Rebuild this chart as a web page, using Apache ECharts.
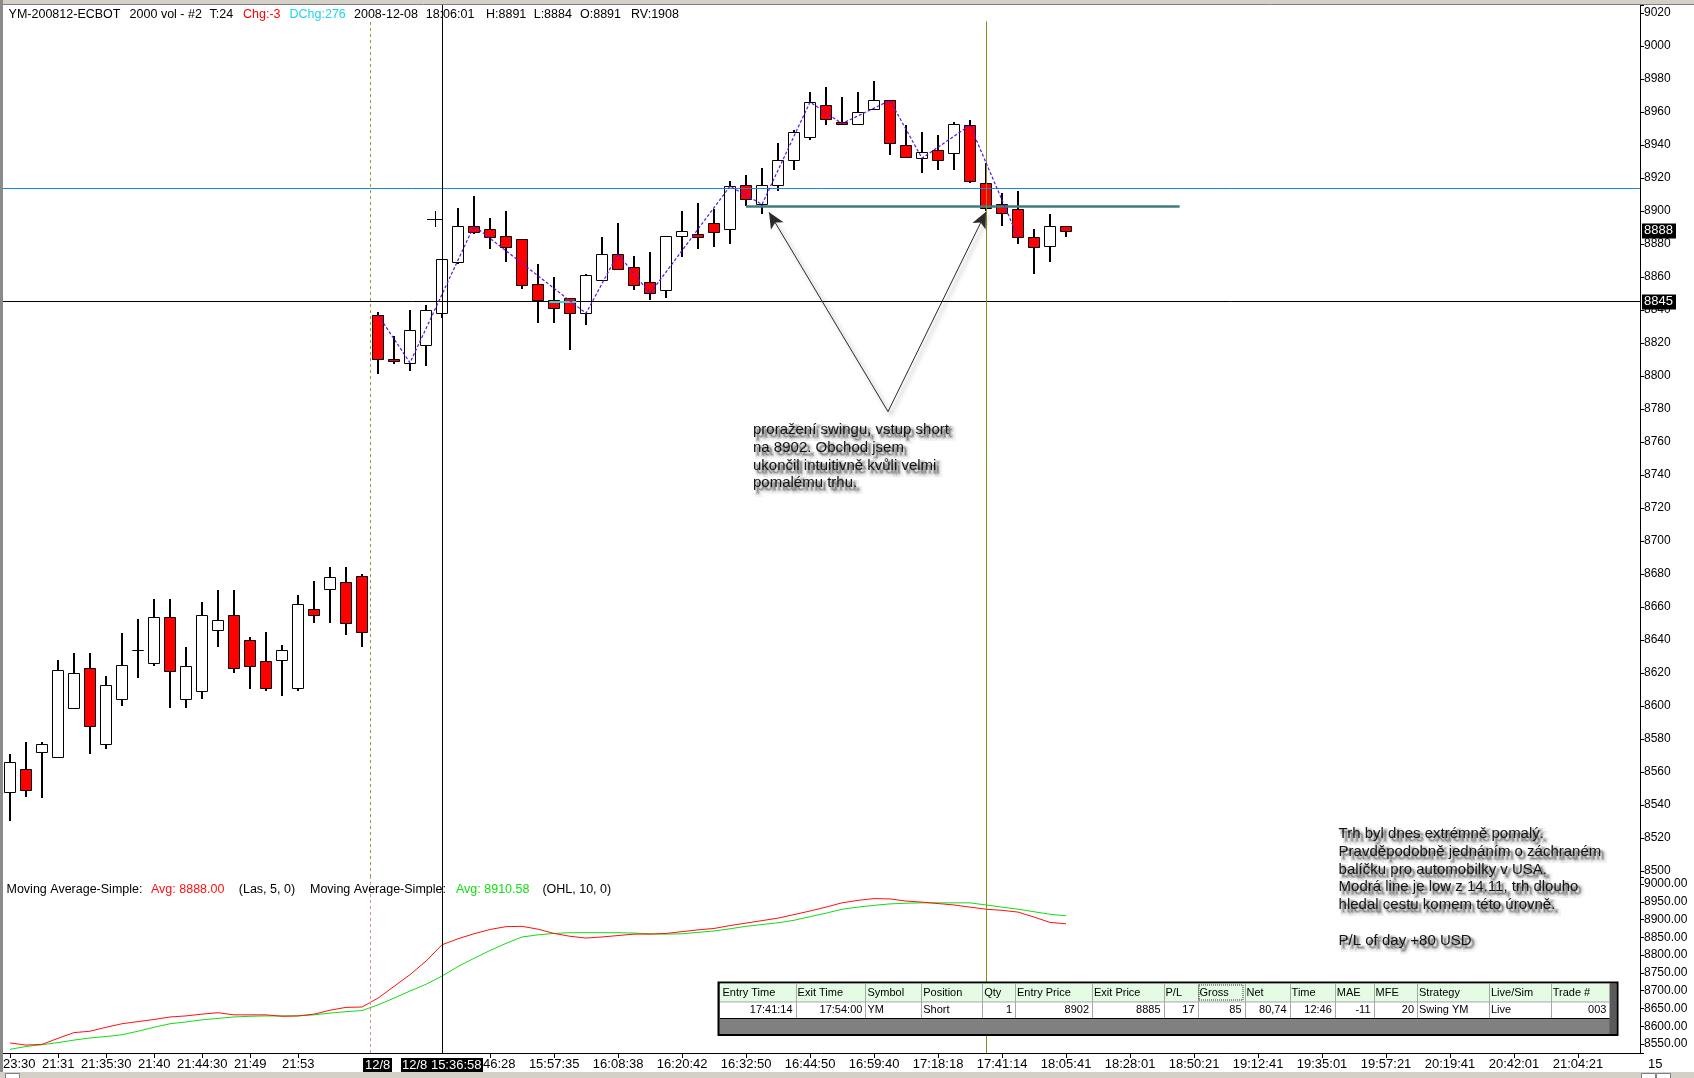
<!DOCTYPE html>
<html><head><meta charset="utf-8">
<script src="https://cdn.jsdelivr.net/npm/echarts@6.0.0/dist/echarts.min.js"></script>
<style>html,body{margin:0;padding:0;background:#fff}#c{width:1694px;height:1078px}</style>
</head><body><div id="c"></div>
<script>
// ---- data ----
const opens  = [8548,8562,8572,8569,8599,8623,8577,8604,8634,8626,8654,8604,8609,8646,8655,8640,8627,8628,8611,8659,8671,8675,8679,
                8837,8810,8808,8819,8838,8869,8891,8889,8885,8883,8856,8846,8847,8838,8858,8874,8866,8857,8852,8885,8886,8893,8889,8916,8904,8916,8931,8945,8964,8954,8953,8962,8967,8940,8932,8937,8935,8952,8917,8904,8901,8884,8879,8891];
const closes = [8566,8549,8577,8622,8620,8588,8613,8625,8634,8654,8621,8624,8655,8652,8623,8624,8611,8634,8662,8655,8678,8650,8645,
                8810,8809,8828,8840,8871,8891,8887,8884,8878,8855,8846,8841,8838,8861,8874,8865,8855,8850,8885,8888,8884,8887,8915,8907,8916,8931,8948,8966,8956,8953,8960,8967,8941,8933,8936,8931,8953,8918,8902,8899,8884,8878,8891,8888];
const lows   = [8530,8545,8544,8569,8598,8571,8574,8600,8617,8624,8599,8599,8604,8636,8620,8610,8609,8606,8609,8650,8650,8643,8636,
                8801,8807,8803,8806,8835,8868,8886,8877,8869,8853,8832,8832,8816,8831,8858,8865,8852,8846,8847,8872,8877,8878,8880,8903,8898,8912,8925,8943,8952,8952,8952,8962,8934,8932,8923,8925,8925,8917,8900,8891,8880,8862,8869,8884];
const highs  = [8571,8578,8578,8628,8632,8632,8618,8644,8653,8665,8665,8636,8663,8670,8670,8642,8645,8637,8667,8676,8684,8684,8680,
                8839,8824,8840,8843,8871,8902,8909,8896,8900,8883,8868,8860,8847,8862,8884,8893,8873,8875,8885,8900,8905,8901,8918,8922,8926,8941,8949,8972,8975,8969,8972,8979,8967,8952,8948,8946,8954,8955,8929,8911,8912,8889,8898,8891];
const maLast5 = [8553,8547,8549,8566,8582,8586,8597,8607,8613,8619,8626,8629,8634,8638,8632,8632,8632,8628,8629,8634,8645,8653,8654,
                 8679,8712,8745,8783,8829,8846,8860,8872,8880,8881,8873,8861,8853,8848,8851,8855,8859,8859,8861,8866,8871,8875,8883,8890,8897,8904,8914,8924,8935,8947,8954,8959,8958,8952,8949,8945,8941,8935,8929,8926,8921,8907,8892,8888];
const maOhl10 = [8535,8543,8548,8554,8561,8567,8571,8576,8586,8597,8607,8612,8618,8622,8626,8628,8629,8629,8629,8632,8637,8641,8644,
                 8660,8679,8699,8718,8741,8768,8791,8813,8833,8851,8857,8861,8863,8863,8863,8863,8862,8860,8859,8860,8864,8868,8874,8881,8886,8891,8898,8908,8918,8929,8935,8940,8944,8946,8947,8947,8947,8947,8941,8935,8929,8922,8915,8910.6];
const zigzagIdx = [23,25,29,36,38,40,45,47,50,52,55,57,60,63];
const zigzagVal = [8837,8808,8891,8838,8874,8850,8915,8904,8966,8953,8967,8932,8952,8884];
const tickIdx  = [0,3,6,9,12,15,18,30,34,38,42,46,50,54,58,62,66,70,74,78,82,86,90,94,98];
const tickText = ['23:30','21:31','21:35:30','21:40','21:44:30','21:49','21:53','15:46:28','15:57:35','16:08:38','16:20:42','16:32:50','16:44:50',
                  '16:59:40','17:18:18','17:41:14','18:05:41','18:28:01','18:50:21','19:12:41','19:35:01','19:57:21','20:19:41','20:42:01','21:04:21'];
const slotCount = 103;
const blueLevel = 8914, blackLevel = 8845, swingLow = 8903, lastPrice = 8888;
const tableHeaders = ['Entry Time','Exit Time','Symbol','Position','Qty','Entry Price','Exit Price','P/L','Gross','Net','Time','MAE','MFE','Strategy','Live/Sim','Trade #'];
const tableRow = ['17:41:14','17:54:00','YM','Short','1','8902','8885','17','85','80,74','12:46','-11','20','Swing YM','Live','003'];
const tableAlign = ['r','r','l','l','r','r','r','r','r','r','r','r','r','l','l','r'];

// ---- layout ----
const F = '"Liberation Sans", Arial, sans-serif';
const GW = 1637;
const X0 = -0.4375, X1 = X0 + GW / 16;
const Y0 = 8496.36, Y1 = 9024.85;
const L0 = 8524.7, L1 = 9019.7;
const chart = echarts.init(document.getElementById('c'), null, {renderer: 'canvas'});

const slots = Array.from({length: slotCount}, (_, i) => String(i));
const tickMap = {};
tickIdx.forEach((k, j) => tickMap[k] = tickText[j]);
const showTick = (i) => tickMap[i] !== undefined;

function renderCandle(params, api) {
  const i = api.value(0), o = api.value(1), c = api.value(2), lo = api.value(3), hi = api.value(4);
  const pO = api.coord([i, o]), pC = api.coord([i, c]), pH = api.coord([i, hi]), pL = api.coord([i, lo]);
  const cx = Math.round(pO[0]);
  const half = 5.5;
  const top = Math.round(Math.min(pO[1], pC[1])) + 0.5;
  const bot = Math.round(Math.max(pO[1], pC[1])) + 0.5;
  return {type: 'group', children: [
    {type: 'line', shape: {x1: cx, y1: Math.round(pH[1]), x2: cx, y2: Math.round(pL[1])}, style: {stroke: '#000', lineWidth: 2}},
    {type: 'rect', shape: {x: cx - half, y: top, width: 2 * half, height: bot - top}, style: {fill: c >= o ? '#ffffff' : '#ff0000', stroke: '#000', lineWidth: 1}}
  ]};
}

const hidden = {show: false};
const arrowStyle = {color: '#2a2a2a', width: 1, type: 'solid', shadowColor: 'rgba(0,0,0,0.45)', shadowBlur: 4, shadowOffsetX: 3, shadowOffsetY: 3};

const option = {
  animation: false,
  backgroundColor: '#fff',
  grid: [
    {left: 3, top: 5, width: GW, height: 872},
    {left: 3, top: 877, width: GW, height: 176},
    {left: 2, top: 877, width: 16 * slotCount, height: 176}
  ],
  xAxis: [
    {gridIndex: 0, type: 'value', min: X0, max: X1, show: false},
    {gridIndex: 1, type: 'value', min: X0, max: X1,
     axisLine: {show: true, onZero: false, lineStyle: {color: '#000', width: 1}},
     axisTick: hidden, axisLabel: hidden, splitLine: hidden},
    {gridIndex: 2, type: 'category', data: slots, boundaryGap: true,
     axisLine: {show: false, onZero: false}, splitLine: hidden,
     axisTick: {show: true, alignWithLabel: true, length: 5, interval: (i) => showTick(i), lineStyle: {color: '#000'}},
     axisLabel: {interval: (i) => showTick(i), margin: 5, fontSize: 13, fontFamily: F, color: '#000',
       formatter: (v, i) => (i === 0 ? '{first|' + tickMap[0] + '}' : (tickMap[i] || '')),
       rich: {first: {padding: [0, 0, 0, 18], fontSize: 13, fontFamily: F, color: '#000'}}}}
  ],
  yAxis: [
    {gridIndex: 0, type: 'value', position: 'right', min: Y0, max: Y1, minInterval: 20, maxInterval: 20, splitNumber: 26,
     axisLine: {show: true, onZero: false, lineStyle: {color: '#000'}}, axisTick: {show: true, length: 4, lineStyle: {color: '#000'}},
     splitLine: hidden,
     axisLabel: {margin: 4, fontSize: 12, fontFamily: F, color: '#000',
       formatter: (v) => (Math.abs(v / 20 - Math.round(v / 20)) < 1e-6 ? String(Math.round(v)) : '')}},
    {gridIndex: 1, type: 'value', position: 'right', min: L0, max: L1, minInterval: 50, maxInterval: 50, splitNumber: 10,
     axisLine: {show: true, onZero: false, lineStyle: {color: '#000'}}, axisTick: {show: true, length: 4, lineStyle: {color: '#000'}},
     splitLine: hidden,
     axisLabel: {margin: 4, fontSize: 12, fontFamily: F, color: '#000',
       formatter: (v) => (Math.abs(v / 50 - Math.round(v / 50)) < 1e-6 ? v.toFixed(2) : '')}},
    {gridIndex: 2, type: 'value', show: false, axisLine: {show: false, onZero: false}}
  ],
  series: [
    {type: 'custom', name: 'YM', xAxisIndex: 0, yAxisIndex: 0, renderItem: renderCandle, z: 4, clip: false,
     encode: {x: 0, y: [1, 2, 3, 4]},
     data: opens.map((o, i) => [i, o, closes[i], lows[i], highs[i]])},
    {type: 'line', name: 'swing', xAxisIndex: 0, yAxisIndex: 0, z: 5, symbol: 'none', silent: true,
     lineStyle: {color: '#5a14e6', width: 1.2, type: [3, 2]},
     data: zigzagIdx.map((x, k) => [x, zigzagVal[k]]),
     markLine: {silent: true, symbol: ['none', 'none'], label: {show: false}, animation: false, precision: 4,
       data: [
         {yAxis: blueLevel, lineStyle: {color: '#1a84f0', width: 1, type: 'solid'}},
         {yAxis: blackLevel, lineStyle: {color: '#000', width: 1, type: 'solid'}},
         [{coord: [46, swingLow], lineStyle: {color: '#3c7c7c', width: 2.5, type: 'solid'}}, {coord: [73.1, swingLow]}],
         [{coord: [33.7, blackLevel], lineStyle: {color: '#30d8e0', width: 2, type: 'solid'}}, {coord: [35.4, blackLevel]}],
         {xAxis: 27, lineStyle: {color: '#000', width: 1, type: 'solid'}},
         [{coord: [22.5, Y0], lineStyle: {color: '#9a9a30', width: 1, type: [3, 3]}}, {coord: [22.5, 9014.5]}],
         [{coord: [61, Y0], lineStyle: {color: '#8a8a1a', width: 1, type: 'solid'}}, {coord: [61, 9015]}],
         [{coord: [54.875, 8778.4], symbol: 'none', lineStyle: arrowStyle}, {coord: [47.44, 8899.2], symbol: 'arrow', symbolSize: [11, 16], itemStyle: {color: '#111'}}],
         [{coord: [54.875, 8778.4], symbol: 'none', lineStyle: arrowStyle}, {coord: [61.0, 8899.5], symbol: 'arrow', symbolSize: [11, 16], itemStyle: {color: '#111'}}]
       ]}},
    {type: 'line', name: 'MA Las 5', xAxisIndex: 1, yAxisIndex: 1, symbol: 'none', z: 4,
     lineStyle: {color: '#ff1010', width: 1}, data: maLast5.map((v, i) => [i, v]),
     markLine: {silent: true, symbol: ['none', 'none'], label: {show: false}, animation: false,
       data: [
         {xAxis: 22.5, lineStyle: {color: '#e08a8a', width: 1, type: [3, 3]}},
         {xAxis: 27, lineStyle: {color: '#000', width: 1, type: 'solid'}},
         {xAxis: 61, lineStyle: {color: '#8a8a1a', width: 1, type: 'solid'}}
       ]}},
    {type: 'line', name: 'MA OHL 10', xAxisIndex: 1, yAxisIndex: 1, symbol: 'none', z: 3,
     lineStyle: {color: '#10e010', width: 1}, data: maOhl10.map((v, i) => [i, v])}
  ]
};
chart.setOption(option);

// ---- annotations / decorations positioned through the chart's own scales ----
const yMain = (v) => chart.convertToPixel({yAxisIndex: 0}, v);
const pMain = (x, y) => chart.convertToPixel({seriesIndex: 0}, [x, y]);
const xAt = (x) => chart.convertToPixel({xAxisIndex: 0}, x);
const g = [];
const txt = (text, x, y, o, z) => g.push({type: 'text', x: x, y: y, z: z || 60, silent: true,
  style: Object.assign({text: text, fill: '#000', fontSize: 12.5, fontFamily: F}, (o && o.style) || {})});

// window chrome
g.push({type: 'rect', z: 70, silent: true, shape: {x: 0, y: 0, width: 1694, height: 4}, style: {fill: '#d4d0c8'}});
g.push({type: 'line', z: 70, silent: true, shape: {x1: 0, y1: 4.5, x2: 1694, y2: 4.5}, style: {stroke: '#808080', lineWidth: 1}});
g.push({type: 'rect', z: 70, silent: true, shape: {x: 0, y: 0, width: 3, height: 1078}, style: {fill: '#8a8a8a'}});
g.push({type: 'rect', z: 70, silent: true, shape: {x: 0, y: 1072, width: 1694, height: 6}, style: {fill: '#d4d0c8'}});
g.push({type: 'rect', z: 71, silent: true, shape: {x: 5.5, y: 1073.5, width: 14, height: 6}, style: {fill: '#fff', stroke: '#808080', lineWidth: 1}});
g.push({type: 'rect', z: 71, silent: true, shape: {x: 1641.5, y: 1073.5, width: 14, height: 6}, style: {fill: '#fff', stroke: '#808080', lineWidth: 1}});
g.push({type: 'rect', z: 71, silent: true, shape: {x: 1656.5, y: 1073.5, width: 14, height: 6}, style: {fill: '#fff', stroke: '#808080', lineWidth: 1}});

// header line
[['YM-200812-ECBOT', 8.6, '#000'], ['2000 vol - #2', 129.6, '#000'], ['T:24', 209.6, '#000'], ['Chg:-3', 243, '#ff0000'],
 ['DChg:276', 289.5, '#1ed4f0'], ['2008-12-08', 354, '#000'], ['18:06:01', 425.7, '#000'], ['H:8891', 486, '#000'],
 ['L:8884', 533.7, '#000'], ['O:8891', 580, '#000'], ['RV:1908', 631, '#000']]
  .forEach(p => txt(p[0], p[1], 8, {style: {fill: p[2]}}));

// MA legend
[['Moving Average-Simple:', 6.5, '#000'], ['Avg: 8888.00', 151, '#ff1010'], ['(Las, 5, 0)', 238.8, '#000'],
 ['Moving Average-Simple:', 310, '#000'], ['Avg: 8910.58', 456, '#10e010'], ['(OHL, 10, 0)', 542.4, '#000']]
  .forEach(p => txt(p[0], p[1], 883, {style: {fill: p[2]}}));

// annotation notes with a soft drop shadow (layered translucent copies)
const notes = [
  ['proražení swingu, vstup short\nna 8902. Obchod jsem\nukončil intuitivně kvůli velmi\npomalému trhu.', 753, 421],
  ['Trh byl dnes extrémně pomalý.\nPravděpodobně jednáním o záchraném\nbalíčku pro automobilky v USA.\nModrá line je low z 14.11, trh dlouho\nhledal cestu komem této úrovně.\n\nP/L of day +80 USD', 1338.6, 825]
];
const shadowLayers = [[4, 4, 6, 0.05], [3, 3, 4, 0.07], [3, 3, 2, 0.10]];
notes.forEach(n => {
  shadowLayers.forEach((s, k) => txt(n[0], n[1] + s[0], n[2] + s[1], {style: {fontSize: 15, lineHeight: 17.8,
     fill: 'rgba(0,0,0,' + (s[3] * 1.6).toFixed(3) + ')', stroke: 'rgba(0,0,0,' + s[3] + ')', lineWidth: s[2]}}, 55 + k));
  txt(n[0], n[1], n[2], {style: {fontSize: 15, lineHeight: 17.8, fill: '#141414'}}, 59);
});

// price boxes on the value axis
[lastPrice, blackLevel].forEach(v => {
  const y = Math.round(yMain(v));
  g.push({type: 'rect', z: 65, silent: true, shape: {x: 1642, y: y - 7.5, width: 34, height: 15}, style: {fill: '#000'}});
  txt(String(v), 1644, y - 7, {style: {fill: '#fff', fontSize: 13}}, 66);
});

// time boxes on the time axis
const xCross = Math.round(xAt(27));
const xSess = Math.round(xAt(22.5)) + 6;
g.push({type: 'rect', z: 65, silent: true, shape: {x: xSess - 13, y: 1058, width: 29, height: 15}, style: {fill: '#000'}});
txt('12/8', xSess - 11, 1059, {style: {fill: '#fff', fontSize: 13}}, 66);
g.push({type: 'rect', z: 65, silent: true, shape: {x: xCross - 41, y: 1058, width: 82, height: 15}, style: {fill: '#000'}});
txt('12/8 15:36:58', xCross - 40, 1059, {style: {fill: '#fff', fontSize: 13}}, 66);
txt('15', 1648, 1058, {style: {fill: '#000', fontSize: 13}}, 66);

// mouse cursor cross
const cur = pMain(26.58, 8895);
g.push({type: 'line', z: 60, silent: true, shape: {x1: Math.round(cur[0]) - 8, y1: Math.round(cur[1]) + 0.5, x2: Math.round(cur[0]) + 8, y2: Math.round(cur[1]) + 0.5}, style: {stroke: '#000', lineWidth: 1}});
g.push({type: 'line', z: 60, silent: true, shape: {x1: Math.round(cur[0]) + 0.5, y1: Math.round(cur[1]) - 8, x2: Math.round(cur[0]) + 0.5, y2: Math.round(cur[1]) + 8}, style: {stroke: '#000', lineWidth: 1}});

// trade table
const colEdges = [720.5, 795.6, 865.4, 921.2, 982.2, 1015, 1092, 1163.5, 1197.5, 1244.5, 1289.6, 1334.8, 1373.5, 1417, 1489, 1550.7, 1609.4];
const tTop = 982.5, hH = 18, rH = 16.5, tBot = 1035;
g.push({type: 'rect', z: 80, silent: true, shape: {x: 718.5, y: tTop, width: 899, height: tBot - tTop}, style: {fill: '#808080', stroke: '#000', lineWidth: 2}});
g.push({type: 'rect', z: 81, silent: true, shape: {x: 720, y: tTop + 1, width: 1609.4 - 720, height: hH}, style: {fill: '#e4fbe4'}});
g.push({type: 'rect', z: 81, silent: true, shape: {x: 720, y: tTop + 1 + hH, width: 1609.4 - 720, height: rH}, style: {fill: '#ffffff'}});
g.push({type: 'rect', z: 81, silent: true, shape: {x: 1609.4, y: tTop + 1, width: 7, height: tBot - tTop - 2}, style: {fill: '#5a5a5a'}});
g.push({type: 'line', z: 82, silent: true, shape: {x1: 720, y1: tTop + 1 + hH + 0.5, x2: 1609.4, y2: tTop + 1 + hH + 0.5}, style: {stroke: '#b0b0b0', lineWidth: 1}});
g.push({type: 'line', z: 82, silent: true, shape: {x1: 720, y1: tTop + 1 + hH + rH + 0.5, x2: 1609.4, y2: tTop + 1 + hH + rH + 0.5}, style: {stroke: '#000', lineWidth: 1}});
colEdges.slice(1).forEach(x => g.push({type: 'line', z: 82, silent: true, shape: {x1: Math.round(x) + 0.5, y1: tTop + 1, x2: Math.round(x) + 0.5, y2: tTop + 1 + hH + rH}, style: {stroke: '#a8a8a8', lineWidth: 1}}));
g.push({type: 'rect', z: 83, silent: true, shape: {x: colEdges[8] + 1.5, y: tTop + 2.5, width: colEdges[9] - colEdges[8] - 3, height: hH - 3}, style: {fill: 'none', stroke: '#333', lineWidth: 1, lineDash: [1, 1]}});
tableHeaders.forEach((h, k) => g.push({type: 'text', z: 84, silent: true, x: colEdges[k] + 2, y: tTop + 1 + hH / 2,
  style: {text: h, fill: '#000', fontSize: 11, fontFamily: F, verticalAlign: 'middle', textVerticalAlign: 'middle'}}));
tableRow.forEach((t, k) => {
  const right = tableAlign[k] === 'r';
  g.push({type: 'text', z: 84, silent: true, x: right ? colEdges[k + 1] - 3 : colEdges[k] + 2, y: tTop + 1 + hH + rH / 2,
    style: {text: t, fill: '#000', fontSize: 11, fontFamily: F, align: right ? 'right' : 'left', textAlign: right ? 'right' : 'left', verticalAlign: 'middle', textVerticalAlign: 'middle'}});
});

chart.setOption({graphic: g});
</script>
</body></html>
